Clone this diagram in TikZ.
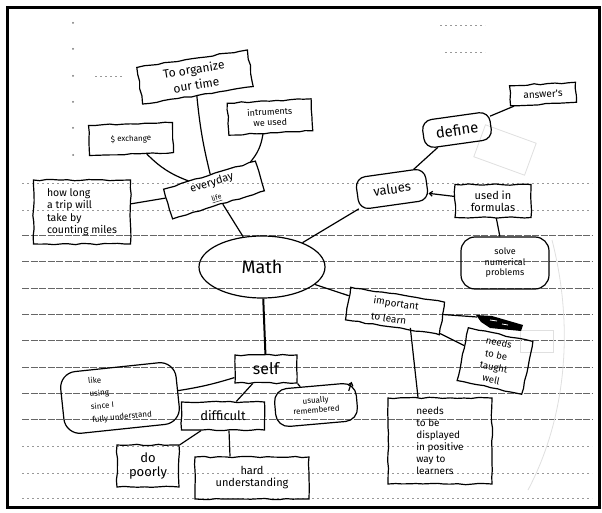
\documentclass[tikz,border=0pt]{standalone}
\usepackage{fontspec}
\setmainfont{Fira Sans}
\usetikzlibrary{decorations.pathmorphing,shapes.geometric,arrows.meta}

\begin{document}
\begin{tikzpicture}[x=1pt,y=-1pt,
  ink/.style={line width=1.2pt, black},
  rough/.style={decorate, decoration={random steps, segment length=7pt, amplitude=0.7pt}},
  box/.style={draw, ink, rough, inner sep=1pt, align=center, font=\fontsize{10}{11}\selectfont},
  blob/.style={draw, ink, rounded corners=10pt, inner sep=1pt, align=center, font=\fontsize{10}{11}\selectfont},
  link/.style={ink},
  tip/.style={-{Straight Barb[length=3pt,width=5pt]}},
  rule/.style={black!60, line width=0.9pt, dash pattern=on 7pt off 1.5pt},
  faintrule/.style={black!40, line width=0.8pt, dash pattern=on 2pt off 3pt},
]
\useasboundingbox (0,0) rectangle (602,513);
\fill[white] (0,0) rectangle (602,513);

% ruled notebook paper
\foreach \yy in {235,261,288,314,340,367,393,419}
  \draw[rule] (22,\yy) -- (592,\yy);
\foreach \yy in {183,210,446,473,498}
  \draw[faintrule] (22,\yy) -- (592,\yy);
\foreach \yy in {23,49,76,102,128,155}
  \fill[black!55] (73,\yy) circle (1pt);
\draw[faintrule] (440,25) -- (485,25);
\draw[faintrule] (445,52) -- (485,52);
\draw[faintrule] (95,76) -- (122,76);

% marks showing through from the back of the sheet
\draw[black!12, line width=0.8pt, rotate around={-20:(505,150)}] (478,133) rectangle (532,167);
\draw[black!12, line width=0.8pt] (520,330) rectangle (553,352);
\draw[black!12, line width=0.8pt] (552,240) .. controls (575,330) and (565,420) .. (528,490);

% sheet border
\draw[line width=3pt] (7,8) rectangle (599,507);

% concept nodes
\node[draw, ink, ellipse, minimum width=126pt, minimum height=62pt, font=\fontsize{18}{20}\selectfont] (math) at (262,267) {Math};

\node[box, minimum width=112pt, minimum height=37pt, rotate=9, font=\fontsize{12}{16}\selectfont] (org) at (195,77) {To organize\\our time};
\node[box, minimum width=84pt, minimum height=32pt, rotate=3, font=\fontsize{9}{10.5}\selectfont] (instr) at (270,117) {intruments\\we used};
\node[box, minimum width=84pt, minimum height=30pt, rotate=2, font=\fontsize{8}{9}\selectfont] (exch) at (131,139) {\$ exchange};
\node[box, minimum width=96pt, minimum height=31pt, rotate=17, font=\fontsize{11}{15}\selectfont] (every) at (214,190) {everyday\\\underline{\smash{\fontsize{7}{8}\selectfont life}}};
\node[box, minimum width=97pt, minimum height=64pt, align=left, font=\fontsize{10.5}{12.5}\selectfont] (how) at (82,212) {how long\\a trip will\\take by\\counting miles};

\node[blob, minimum width=70pt, minimum height=32pt, rotate=8, font=\fontsize{13}{14}\selectfont] (values) at (392,189) {values};
\node[blob, minimum width=68pt, minimum height=28pt, rotate=8, font=\fontsize{15}{16}\selectfont] (define) at (457,130) {define};
\node[box, minimum width=66pt, minimum height=20pt, rotate=3, font=\fontsize{10}{11}\selectfont] (answers) at (543,94) {answer's};
\node[box, minimum width=76pt, minimum height=33pt, font=\fontsize{11}{12}\selectfont] (used) at (493,201) {used in\\formulas};
\node[blob, minimum width=88pt, minimum height=52pt, rounded corners=14pt, font=\fontsize{9}{10.5}\selectfont] (solve) at (505,263) {solve\\numerical\\problems};

\node[box, minimum width=95pt, minimum height=33pt, rotate=-9, align=left, font=\fontsize{10}{16}\selectfont] (imp) at (395,311) {important\\to learn};
\node[box, minimum width=66pt, minimum height=54pt, rotate=-12, font=\fontsize{9.5}{12.5}\selectfont] (taught) at (495,361) {needs\\to be\\taught\\well};
\node[box, minimum width=104pt, minimum height=86pt, align=left, font=\fontsize{10}{12}\selectfont] (shown) at (440,441) {needs\\to be\\displayed\\in positive\\way to\\learners};
\coordinate (scrib) at (477,317);

\node[box, minimum width=62pt, minimum height=28pt, font=\fontsize{16}{17}\selectfont] (self) at (266,369) {self};
\node[blob, minimum width=116pt, minimum height=62pt, rounded corners=16pt, rotate=6, align=left, font=\fontsize{8}{13}\selectfont] (like) at (120,398) {like\\using\\since I\\fully understand};
\node[box, minimum width=83pt, minimum height=28pt, font=\fontsize{13}{14}\selectfont] (diff) at (223,416) {difficult};
\node[blob, minimum width=82pt, minimum height=38pt, rounded corners=13pt, rotate=5, font=\fontsize{8}{9.5}\selectfont] (usual) at (316,405) {usually\\remembered};
\node[box, minimum width=62pt, minimum height=42pt, font=\fontsize{13}{14}\selectfont] (poorly) at (148,466) {do\\poorly};
\node[box, minimum width=114pt, minimum height=42pt, font=\fontsize{11}{12}\selectfont] (hard) at (252,478) {hard\\understanding};

% the crossed-out word
\fill[black] (476,315) -- (492,316) -- (523,325) -- (521,331) -- (490,328) -- (481,322) -- cycle;
\draw[white, line width=0.8pt] (490,320) -- (497,321) (502,324) -- (508,325);

% small stroke ending the usually-remembered outline
\draw[ink, tip] ([shift={(-7,9)}]usual.north east) -- ++(3,-9);

% connectors
\draw[link] (every) to[bend left=4] (org);
\draw[link] (every) to[bend right=15] (instr);
\draw[link] (every) to[bend left=12] (exch);
\draw[link] (every) -- (how);
\draw[link] (every) -- (math);

\draw[link] (math) -- (values);
\draw[link] (values) -- (define);
\draw[link] (define) -- (answers);
\draw[link, tip] (used) -- (values);
\draw[link] (used) -- (solve);

\draw[link] (math) -- (imp);
\draw[link] (imp) -- (scrib);
\draw[link] (imp) -- (taught);
\draw[link] ([xshift=18pt]imp.south) -- ([xshift=-22pt]shown.north);

\draw[line width=2pt] (math) -- (self);
\draw[link] (self) to[bend left=4] (like);
\draw[link] (self) -- (diff);
\draw[link] (self.south east) -- (usual);
\draw[link] (diff) -- (poorly);
\draw[link] ([xshift=6pt]diff.south) -- ([xshift=-22pt]hard.north);
\end{tikzpicture}
\end{document}
